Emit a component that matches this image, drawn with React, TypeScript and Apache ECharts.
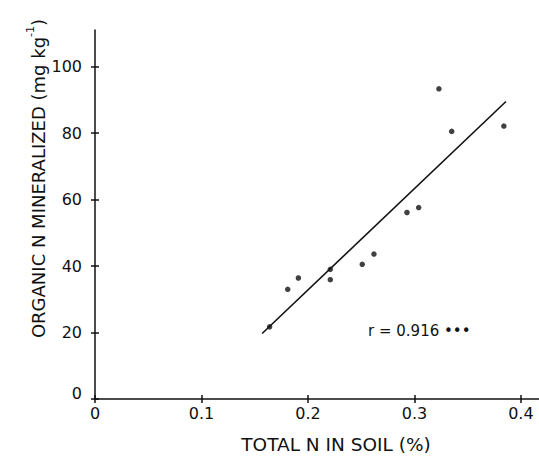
import React, { useEffect, useRef } from "react";
import * as echarts from "echarts";

const totalN = [0.164, 0.181, 0.191, 0.221, 0.221, 0.251, 0.262, 0.293, 0.304, 0.323, 0.335, 0.384];
const mineralizedN = [21.7, 33.0, 36.4, 39.0, 35.9, 40.5, 43.6, 56.1, 57.6, 93.3, 80.5, 82.1];
const fitX = [0.157, 0.386];
const fitY = [19.7, 89.5];
const xTicks = [0, 0.1, 0.2, 0.3, 0.4];
const yTicks = [0, 20, 40, 60, 80, 100];
const xTitle = "TOTAL N IN SOIL (%)";
const yTitle = "ORGANIC N MINERALIZED (mg kg";
const rLabel = "r = 0.916 •••";

const FONT = "DejaVu Sans";
const INK = "#111";

export default function App() {
  const ref = useRef<HTMLDivElement>(null);
  useEffect(() => {
    document.body.style.margin = "0";
    const chart = echarts.init(ref.current!, null, { renderer: "svg" });
    const pts = totalN.map((x, i) => [x, mineralizedN[i]]);
    const fit = fitX.map((x, i) => [x, fitY[i]]);
    const baseX = {
      type: "value",
      min: 0,
      max: 0.417,
      position: "bottom",
      splitLine: { show: false },
    };
    const baseY = {
      type: "value",
      min: 0,
      max: 111,
      position: "left",
      splitLine: { show: false },
    };
    chart.setOption({
      animation: false,
      backgroundColor: "#fff",
      grid: { left: 95, right: 0, top: 30, bottom: 58 },
      xAxis: [
        {
          ...baseX,
          axisLine: { show: true, lineStyle: { color: INK, width: 1.5 } },
          axisTick: { show: true, length: 4, customValues: xTicks, lineStyle: { color: INK, width: 1.5 } },
          axisLabel: {
            customValues: xTicks,
            margin: 6,
            color: INK,
            fontSize: 16,
            fontFamily: FONT,
            formatter: (v: number) => String(v),
          },
        },
        {
          ...baseX,
          axisLine: { show: false },
          axisTick: { show: true, inside: true, length: 4, customValues: xTicks, lineStyle: { color: INK, width: 1.5 } },
          axisLabel: { show: false },
        },
      ],
      yAxis: [
        {
          ...baseY,
          axisLine: { show: true, lineStyle: { color: INK, width: 1.5 } },
          axisTick: { show: true, length: 4, customValues: yTicks, lineStyle: { color: INK, width: 1.5 } },
          axisLabel: {
            customValues: yTicks,
            margin: 13,
            color: INK,
            fontSize: 16,
            fontFamily: FONT,
            formatter: (v: number) => (v === 0 ? "{z|0}" : String(v)),
            rich: { z: { fontSize: 16, fontFamily: FONT, color: INK, padding: [0, 0, 12, 0] } },
          },
        },
        {
          ...baseY,
          axisLine: { show: false },
          axisTick: { show: true, inside: true, length: 4, customValues: yTicks, lineStyle: { color: INK, width: 1.5 } },
          axisLabel: { show: false },
        },
      ],
      series: [
        {
          type: "line",
          data: fit,
          showSymbol: false,
          symbol: "none",
          lineStyle: { color: INK, width: 1.6 },
          silent: true,
        },
        {
          type: "scatter",
          data: pts,
          symbol: "circle",
          symbolSize: 5.5,
          itemStyle: { color: INK },
        },
      ],
      graphic: [
        {
          type: "text",
          x: 336,
          y: 444.5,
          style: {
            text: xTitle,
            fontSize: 18.5,
            fontFamily: FONT,
            fill: INK,
            align: "center",
            verticalAlign: "middle",
          },
        },
        {
          type: "text",
          x: 36,
          y: 178.5,
          rotation: Math.PI / 2,
          style: {
            text: "{a|" + yTitle + "}{b|-1}{a|)}",
            fill: INK,
            align: "center",
            verticalAlign: "middle",
            rich: {
              a: { fontSize: 18, fontFamily: FONT, fill: INK, verticalAlign: "bottom", lineHeight: 22 },
              b: { fontSize: 11, fontFamily: FONT, fill: INK, verticalAlign: "top", lineHeight: 22 },
            },
          },
        },
        {
          type: "text",
          x: 368,
          y: 331,
          style: {
            text: rLabel,
            fontSize: 15,
            fontFamily: FONT,
            fill: INK,
            align: "left",
            verticalAlign: "middle",
          },
        },
      ],
    });
    return () => chart.dispose();
  }, []);
  return <div ref={ref} style={{ width: 539, height: 457 }} />;
}
